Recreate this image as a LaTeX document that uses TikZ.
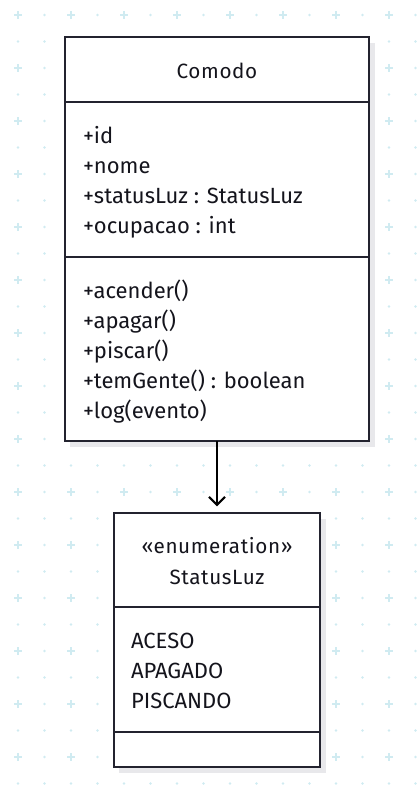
\documentclass[tikz,border=0pt]{standalone}
\usepackage{fontspec}
\setmainfont{Fira Sans}
\usepackage{tikz}
\usetikzlibrary{arrows.meta}
\definecolor{gridc}{HTML}{D0EBF1}
\definecolor{boxc}{HTML}{23232F}
\definecolor{textc}{HTML}{14141C}
\definecolor{shadowc}{HTML}{E8E8EB}

\begin{document}
\begin{tikzpicture}[x=0.75pt,y=-0.75pt]
                \tikzstyle{every node}+=[inner sep=0pt,outer sep=0pt,text=textc,font=\fontsize{16.5}{19}\selectfont]
                \tikzstyle{umlbox}=[draw=boxc,line width=2pt,fill=white,rectangle,anchor=north west]
                \tikzstyle{umlline}=[draw=boxc,line width=2pt]
                \tikzstyle{member}=[anchor=base west]
                \tikzstyle{title}=[anchor=base,font=\fontsize{15.5}{19}\selectfont\addfontfeatures{LetterSpace=3}]
                \useasboundingbox (0,0) rectangle (417,799);
                % background grid
                \foreach \i in {0,...,15}
                  \foreach \j in {0,...,29}
                    \fill [gridc] (18+26.5*\i,15+26.5*\j) circle (1.3);
                \foreach \i in {0,...,7}
                  \foreach \j in {0,...,14}
                    \draw [gridc,line width=1.3pt] (14+53*\i,15+53*\j) -- (22+53*\i,15+53*\j)
                      (18+53*\i,11+53*\j) -- (18+53*\i,19+53*\j);
                % shadows
                \fill [shadowc] (70,43) rectangle (375,447);
                \fill [shadowc] (119,519) rectangle (326,773);
                % class Comodo
                \node [umlbox,minimum width=304*0.75pt,minimum height=404*0.75pt] (comodo) at (65,37) {};
                \draw [umlline] (65,102) -- (369,102);
                \draw [umlline] (65,257) -- (369,257);
                \node [title] (comodoname) at (217,79) {Comodo};
                \node [member] (a1) at (83,143) {+id};
                \node [member] (a2) at (83,173) {+nome};
                \node [member] (a3) at (83,203) {+statusLuz : StatusLuz};
                \node [member] (a4) at (83,233) {+ocupacao : int};
                \node [member] (m1) at (83,298) {+acender()};
                \node [member] (m2) at (83,328) {+apagar()};
                \node [member] (m3) at (83,358) {+piscar()};
                \node [member] (m4) at (83,388) {+temGente() : boolean};
                \node [member] (m5) at (83,418) {+log(evento)};
                % enumeration StatusLuz
                \node [umlbox,minimum width=206*0.75pt,minimum height=254*0.75pt] (status) at (114,513) {};
                \draw [umlline] (114,607) -- (320,607);
                \draw [umlline] (114,732) -- (320,732);
                \node [title] (stereo) at (217,553) {«enumeration»};
                \node [title] (statusname) at (217,584) {StatusLuz};
                \node [member] (e1) at (131,648) {ACESO};
                \node [member] (e2) at (131,678) {APAGADO};
                \node [member] (e3) at (131,708) {PISCANDO};
                % association
                \draw [black,line width=1.6pt,shorten >=5pt,-{Straight Barb[length=6pt,width=12pt]}] (comodo.south) -- (status.north);
            \end{tikzpicture}
\end{document}
